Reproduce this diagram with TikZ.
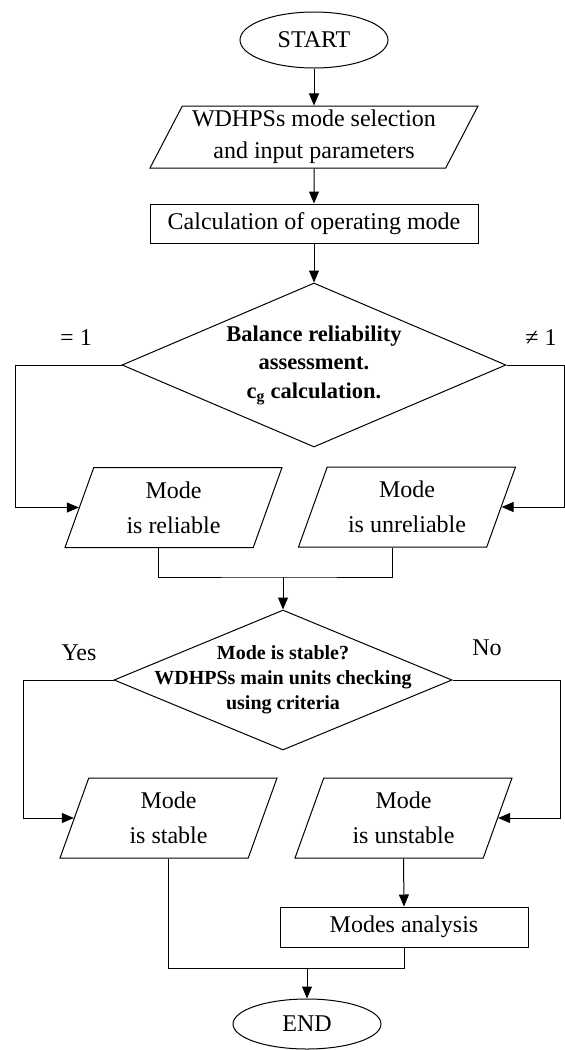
\documentclass[tikz,border=0pt]{standalone}
\usepackage{fontspec}
\setmainfont{Liberation Serif}
\usepackage{tikz}
\usetikzlibrary{arrows.meta,shapes.geometric}

\begin{document}
\begin{tikzpicture}[x=1pt, y=-1pt, line width=1pt,
  every node/.style={font=\fontsize{24}{32}\selectfont, align=center},
  term/.style={draw, ellipse, minimum width=148pt, minimum height=56pt, inner sep=0pt},
  proc/.style={draw, rectangle, minimum height=40pt, inner sep=0pt},
  io/.style={draw, trapezium, trapezium left angle=61, trapezium right angle=119,
    trapezium stretches body, minimum width=217pt, minimum height=80pt, inner sep=0pt,
    font=\fontsize{24}{35}\selectfont},
  cond/.style={draw, diamond, inner sep=0pt},
  flow/.style={-{Triangle[length=12pt,width=10pt]}}]
\useasboundingbox (0,0) rectangle (565,1050);

\node[term] (start) at (314,40) {START};
\node[io, trapezium left angle=59, trapezium right angle=121, minimum width=328pt,
  minimum height=62pt, font=\fontsize{24}{32}\selectfont] (sel) at (314,137)
  {WDHPSs mode selection\\and input parameters};
\node[proc, minimum width=328pt, minimum height=39pt] (calc) at (314,223.5) {Calculation of operating mode};
\node[cond, aspect=2.34, minimum width=384pt, minimum height=164pt,
  font=\fontsize{22.5}{28.5}\selectfont\bfseries] (bal) at (314,365)
  {Balance reliability\\assessment.\\c\textsubscript{g} calculation.};
\node[io] (rel) at (173.5,507.5) {Mode\\is reliable};
\node[io] (unrel) at (407,507) {Mode\\is unreliable};
\node[cond, aspect=2.41, minimum width=338pt, minimum height=140pt, inner xsep=-60pt,
  font=\fontsize{20}{25}\selectfont\bfseries] (stb) at (283,680)
  {Mode is stable?\\WDHPSs main units checking\\using criteria};
\node[io] (stab) at (168.5,818) {Mode\\is stable};
\node[io] (unstab) at (403.5,818) {Mode\\is unstable};
\node[proc, minimum width=248pt] (anl) at (404,927) {Modes analysis};
\node[term, minimum height=50pt] (fin) at (307,1024) {END};

% branch labels
\node (eq) at (76,338) {= 1};
\node (neq) at (541,338) {≠ 1};
\node (yes) at (79,653) {Yes};
\node (no) at (487,648) {No};

\coordinate (l1) at (15,365);
\coordinate (r1) at (564,365);
\coordinate (m1) at (283,577);
\coordinate (l2) at (23,680);
\coordinate (r2) at (560,680);
\coordinate (m2) at (307,968);

\draw[flow] (start) -- (sel);
\draw[flow] (sel) -- (calc);
\draw[flow] (calc) -- (bal);
\draw[flow] (bal.west) -- (l1) |- (rel.left side);
\draw[flow] (bal.east) -- (r1) |- (unrel.right side);
\draw (rel.bottom side) |- (m1) -| (unrel.bottom side);
\draw[flow] (m1) -- (stb.north);
\draw[flow] (stb.west) -- (l2) |- (stab.left side);
\draw[flow] (stb.east) -- (r2) |- (unstab.right side);
\draw[flow] (unstab.south) -- (anl.north);
\draw (stab.south) |- (m2) -| (anl.south);
\draw[flow] (m2) -- (fin.north);
\end{tikzpicture}
\end{document}
